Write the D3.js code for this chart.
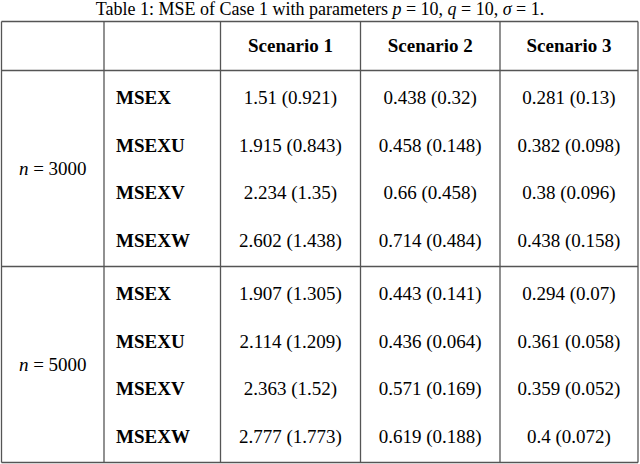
<!DOCTYPE html>
<html><head><meta charset="utf-8">
<script src="https://cdn.jsdelivr.net/npm/d3@7"></script>
<style>body{margin:0;background:#fff}</style>
</head><body>
<svg id="t" width="640" height="464"></svg>
<script>
const scenarios = ["Scenario 1", "Scenario 2", "Scenario 3"];
const groups = ["3000", "5000"];
const metrics = ["MSEX", "MSEXU", "MSEXV", "MSEXW"];
const values3000 = [
  ["1.51 (0.921)", "0.438 (0.32)", "0.281 (0.13)"],
  ["1.915 (0.843)", "0.458 (0.148)", "0.382 (0.098)"],
  ["2.234 (1.35)", "0.66 (0.458)", "0.38 (0.096)"],
  ["2.602 (1.438)", "0.714 (0.484)", "0.438 (0.158)"]
];
const values5000 = [
  ["1.907 (1.305)", "0.443 (0.141)", "0.294 (0.07)"],
  ["2.114 (1.209)", "0.436 (0.064)", "0.361 (0.058)"],
  ["2.363 (1.52)", "0.571 (0.169)", "0.359 (0.052)"],
  ["2.777 (1.773)", "0.619 (0.188)", "0.4 (0.072)"]
];
const allValues = [values3000, values5000];

const svg = d3.select("#t");
const font = "'Liberation Serif', 'DejaVu Serif', serif";
const colX = [1.5, 104, 220.5, 360.5, 500, 638];
const yTop = 21.5, headBottom = 70.5, mid = 266.5, yBottom = 462.5;

// title
svg.append("text").attr("x", 320).attr("y", 15).attr("text-anchor", "middle")
  .attr("font-family", font).attr("font-size", 18)
  .html('Table 1: MSE of Case 1 with parameters <tspan font-style="italic">p</tspan> = 10, <tspan font-style="italic">q</tspan> = 10, <tspan font-style="italic">σ</tspan> = 1.');

// grid lines
const g = svg.append("g").attr("stroke", "#555").attr("stroke-width", 1.3);
[yTop, headBottom, mid, yBottom].forEach(y =>
  g.append("line").attr("x1", colX[0]).attr("x2", colX[5]).attr("y1", y).attr("y2", y));
colX.forEach(x => g.append("line").attr("x1", x).attr("x2", x).attr("y1", yTop).attr("y2", yBottom));

// header
scenarios.forEach((s, i) => {
  svg.append("text").attr("x", (colX[i + 2] + colX[i + 3]) / 2).attr("y", (yTop + headBottom) / 2 + 6)
    .attr("text-anchor", "middle").attr("font-family", font).attr("font-size", 19)
    .attr("font-weight", "bold").text(s);
});

const groupY = d3.scaleBand().domain(groups).range([headBottom, yBottom]);
groups.forEach((grp, gi) => {
  const y0 = groupY(grp);
  const rowY = d3.scaleBand().domain(metrics).range([y0 + 4, y0 + groupY.bandwidth() - 2]);
  svg.append("text").attr("x", (colX[0] + colX[1]) / 2).attr("y", y0 + groupY.bandwidth() / 2 + 6)
    .attr("text-anchor", "middle").attr("font-family", font).attr("font-size", 19)
    .html('<tspan font-style="italic">n</tspan> = ' + grp);
  metrics.forEach((m, mi) => {
    const cy = rowY(m) + rowY.bandwidth() / 2 + 6;
    svg.append("text").attr("x", colX[1] + 12).attr("y", cy)
      .attr("font-family", font).attr("font-size", 19).attr("font-weight", "bold").text(m);
    allValues[gi][mi].forEach((v, ci) => {
      svg.append("text").attr("x", (colX[ci + 2] + colX[ci + 3]) / 2).attr("y", cy)
        .attr("text-anchor", "middle").attr("font-family", font).attr("font-size", 19).text(v);
    });
  });
});
</script>
</body></html>
